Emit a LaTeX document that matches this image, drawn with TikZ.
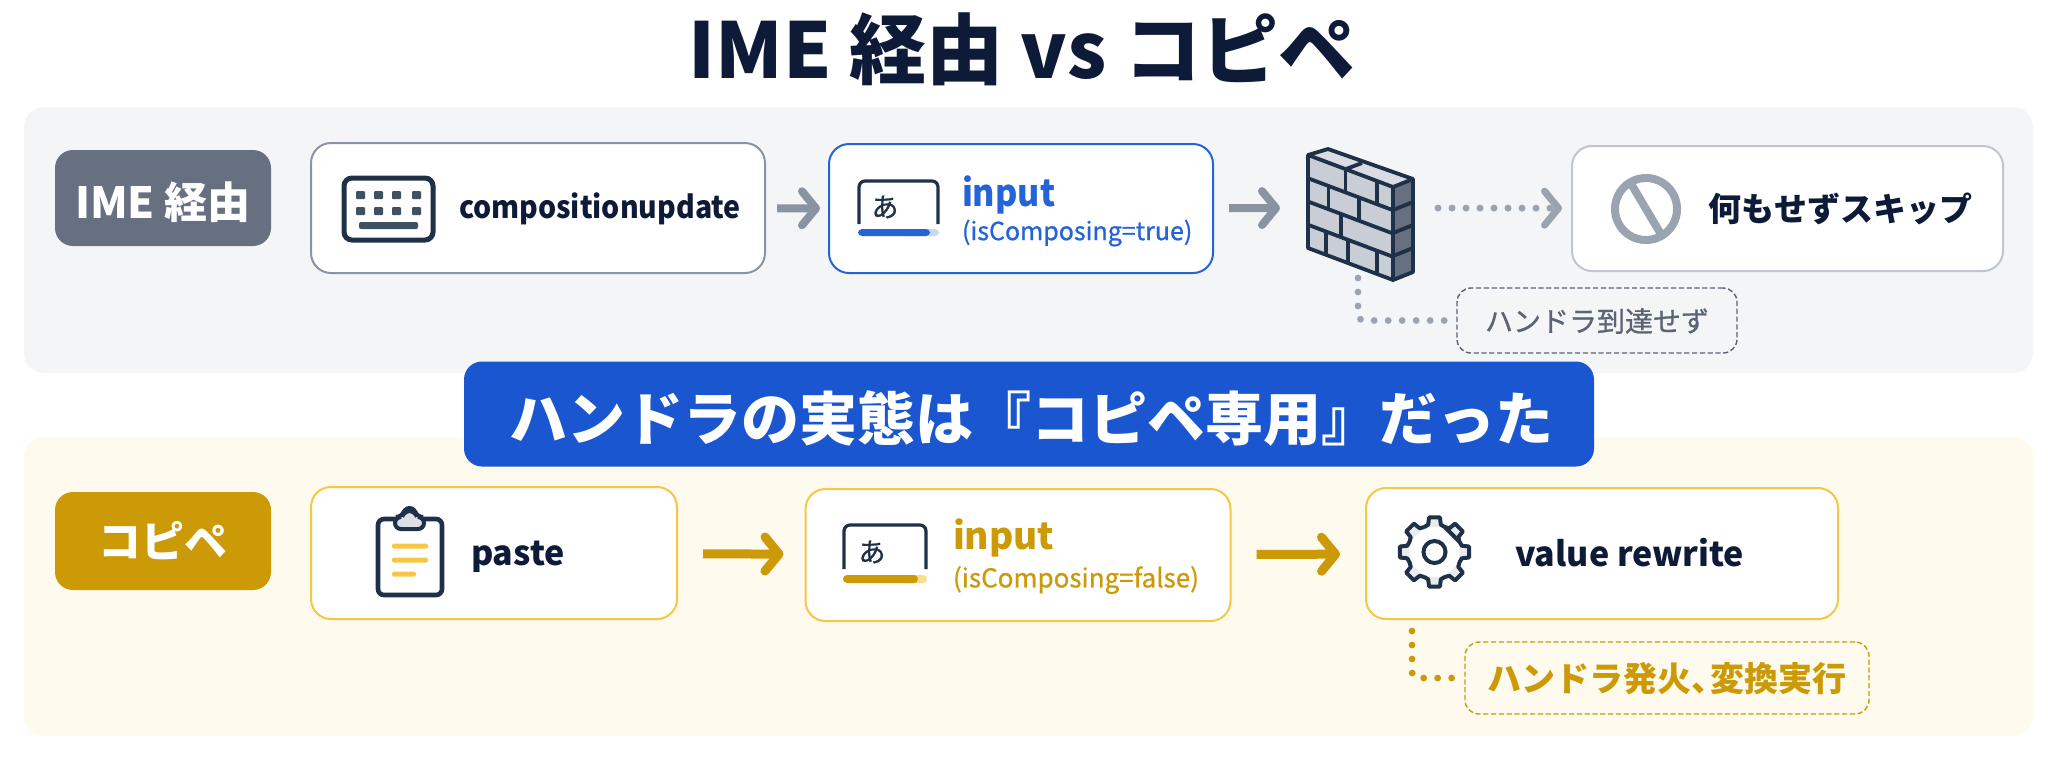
\documentclass[tikz,border=0pt]{standalone}
\usepackage{fontspec}
\setmainfont{Noto Sans CJK JP}
\newfontfamily\narrowfont[FakeStretch=0.92]{Noto Sans CJK JP}
\newfontfamily\medfont[FakeBold=0.8]{Noto Sans CJK JP}
\usetikzlibrary{arrows.meta}

\definecolor{inkdark}{HTML}{0E1B38}
\definecolor{icondark}{HTML}{1E3148}
\definecolor{panelgray}{HTML}{F4F5F7}
\definecolor{panelcream}{HTML}{FEFAEE}
\definecolor{taggray}{HTML}{667080}
\definecolor{taggold}{HTML}{CC9A06}
\definecolor{linegray}{HTML}{8A93A2}
\definecolor{dotgray}{HTML}{9AA3B0}
\definecolor{softgray}{HTML}{C0C5CF}
\definecolor{notegray}{HTML}{5A6473}
\definecolor{inputblue}{HTML}{2563D8}
\definecolor{bannerblue}{HTML}{1A56CF}
\definecolor{softyellow}{HTML}{F6C744}

\begin{document}
\begin{tikzpicture}[
  x=0.5pt, y=-0.5pt,
  every node/.style={inner sep=0pt, outer sep=0pt},
  panelbox/.style={rounded corners=10pt},
  tagbox/.style={rounded corners=9pt},
  tagtext/.style={text=white, font=\fontsize{21.5}{26}\selectfont\bfseries},
  flowbox/.style={draw, fill=white, rounded corners=10pt, line width=1pt},
  notebox/.style={draw, dash pattern=on 2.6pt off 1.3pt, rounded corners=7pt, line width=0.7pt},
  flowarrow/.style={-{Straight Barb[length=7pt,width=17pt,round]}, line width=4pt, shorten <=6pt, shorten >=4.5pt},
  dotline/.style={line width=3.4pt, line cap=round, dash pattern=on 0pt off 7pt, rounded corners=3pt},
  flowtext/.style={anchor=west, text=inkdark, font=\fontsize{17}{20}\selectfont\bfseries},
  subtext/.style={anchor=west, font=\medfont\fontsize{12.5}{15}\selectfont},
  kanaicon/.style={text=icondark, font=\medfont\fontsize{13.5}{15}\selectfont}
]
\useasboundingbox (0,0) rectangle (2048,768);
\fill[white] (0,0) rectangle (2048,768);

% Title
\node[text=inkdark, font=\fontsize{38.5}{44}\selectfont\bfseries] (title) at (1022,49) {IME 経由 vs コピペ};

% Panels
\node[panelbox, fill=panelgray, minimum width=1004.5pt, minimum height=133pt] (panelime) at (1028.5,240) {};
\node[panelbox, fill=panelcream, minimum width=1004.5pt, minimum height=149.5pt] (panelcopy) at (1028.5,586.5) {};

% Upper flow
\node[tagbox, fill=taggray, minimum width=108pt, minimum height=48pt] (tagime) at (163,198) {};
\node[tagtext] (tagimetext) at (163,202) {IME 経由};
\node[flowbox, draw=linegray, minimum width=227pt, minimum height=65pt] (compose) at (538,208) {};
\node[flowtext, font=\narrowfont\fontsize{15.5}{18}\selectfont\bfseries] (composetext) at (459,209) {compositionupdate};
\node[flowbox, draw=inputblue, minimum width=192pt, minimum height=64.5pt] (inputime) at (1021,208.5) {};
\node[anchor=west, text=inputblue, font=\narrowfont\fontsize{18.5}{22}\selectfont\bfseries] (inputimetext) at (962,195) {input};
\node[subtext, text=inputblue] (inputimesub) at (962,233) {(isComposing=true)};
\node[flowbox, draw=softgray, minimum width=215.5pt, minimum height=62.5pt] (skip) at (1787.5,208.5) {};
\node[anchor=west, text=inkdark, font=\fontsize{16.5}{20}\selectfont\bfseries] (skiptext) at (1708,209) {何もせずスキップ};
\node[notebox, draw=notegray, minimum width=140pt, minimum height=32.5pt] (noteime) at (1597,320.5) {};
\node[text=notegray, font=\medfont\fontsize{14}{17}\selectfont] (noteimetext) at (1597,321) {ハンドラ到達せず};
\coordinate (wallin) at (1290,208);
\coordinate (wallout) at (1424,208);
\coordinate (wallfoot) at (1358,278);

% Lower flow
\node[tagbox, fill=taggold, minimum width=108pt, minimum height=49pt] (tagcopy) at (163,541) {};
\node[tagtext] (tagcopytext) at (163,541) {コピペ};
\node[flowbox, draw=softyellow, minimum width=183pt, minimum height=66pt] (paste) at (494,553) {};
\node[flowtext] (pastetext) at (471,557) {paste};
\node[flowbox, draw=softyellow, minimum width=212.5pt, minimum height=66pt] (inputcopy) at (1018,555) {};
\node[anchor=west, text=taggold, font=\fontsize{18.5}{22}\selectfont\bfseries] (inputcopytext) at (953,538) {input};
\node[subtext, text=taggold, font=\medfont\fontsize{13}{15}\selectfont] (inputcopysub) at (953,580) {(isComposing=false)};
\node[flowbox, draw=softyellow, minimum width=236pt, minimum height=65.5pt] (rewrite) at (1602,553.5) {};
\node[flowtext] (rewritetext) at (1515,553) {value rewrite};
\node[notebox, draw=taggold, minimum width=202pt, minimum height=36pt] (notecopy) at (1667,678) {};
\node[text=taggold, font=\fontsize{17}{20}\selectfont\bfseries] (notecopytext) at (1667,679) {ハンドラ発火、\hspace{-0.45em}変換実行};
\coordinate (rewritefoot) at (1412,631);

% Banner
\node[rounded corners=9pt, fill=bannerblue, minimum width=565pt, minimum height=52.5pt] (banner) at (1029,414) {};
\node[text=white, font=\fontsize{29}{34}\selectfont\bfseries] (bannertext) at (1031,418) {ハンドラの実態は『コピペ専用』だった};

% Keyboard icon
\draw[icondark, line width=2.5pt, rounded corners=4pt] (344,178) rectangle (433,240);
\foreach \kx in {356,374,392,412} \foreach \ky in {191,207} {
  \fill[icondark!85, rounded corners=0.5pt] (\kx,\ky) rectangle ++(9,8);
}
\fill[icondark!85, rounded corners=1pt] (359,222) rectangle (418,229);

% Kana input icons
\draw[icondark, line width=1.6pt, rounded corners=3pt] (859,224) -- (859,181) -- (938,181) -- (938,224);
\node[kanaicon] (kanaime) at (885,207) {あ};
\fill[inputblue!25, rounded corners=2pt] (900,229) rectangle (939,236);
\fill[inputblue, rounded corners=2pt] (858,229) rectangle (930,236);
\draw[icondark, line width=1.6pt, rounded corners=3pt] (844,569) -- (844,525) -- (926,525) -- (926,569);
\node[kanaicon] (kanacopy) at (872,552) {あ};
\fill[softyellow!60, rounded corners=2pt] (900,575) rectangle (927,583);
\fill[taggold, rounded corners=2pt] (843,575) rectangle (918,583);

% Firewall
\fill[softgray!85] (1308,155) -- (1393,187) -- (1393,280) -- (1308,248) -- cycle;
\fill[softgray!60] (1308,155) -- (1328,149) -- (1413,179) -- (1393,187) -- cycle;
\fill[taggray] (1393,187) -- (1413,179) -- (1413,272) -- (1393,280) -- cycle;
\begin{scope}[shift={(1308,155)}, x={(42.5pt,-16pt)}, y={(0pt,-46.5pt)}, icondark, line width=1.9pt, line join=round]
  \foreach \mv in {0.25,0.5,0.75} {\draw (0,\mv) -- (1,\mv);}
  \foreach \mu/\vtop in {0.44/0,0.81/0,0.24/0.25,0.60/0.25,0.39/0.5,0.21/0.75,0.47/0.75,0.81/0.75} {
    \draw (\mu,\vtop) -- (\mu,\vtop+0.25);
  }
\end{scope}
\foreach \moff in {23,46,69} {
  \draw[icondark, line width=1.9pt] (1393,187+\moff) -- (1413,179+\moff);
}
\draw[icondark, line width=1.9pt, line join=round] (1308,155) -- (1328,149) -- (1413,179) -- (1413,272) -- (1393,280) -- (1308,248) -- cycle;
\draw[icondark, line width=1.9pt, line join=round] (1308,155) -- (1393,187) -- (1413,179) (1393,187) -- (1393,280) (1346,169) -- (1362,163);

% Prohibit icon
\draw[dotgray, line width=4pt] (1646,209) circle (31);
\draw[dotgray, line width=4pt] (1630,182) -- (1662,236);

% Clipboard icon
\draw[icondark, line width=2.3pt, rounded corners=3pt] (378,519) rectangle (442,595);
\draw[icondark, fill=softgray!55, line width=2pt] (409.5,514) circle (6);
\draw[icondark, fill=softgray!55, line width=2pt, rounded corners=3pt] (395,529) -- (395,517) -- (402,517) -- (404,511) -- (415,511) -- (417,517) -- (424,517) -- (424,529) -- cycle;
\foreach \ly/\lx in {546/428,560/428,574/416} {
  \fill[softyellow, rounded corners=1pt] (392,\ly-2.5) rectangle (\lx,\ly+2.5);
}

% Gear icon
\begin{scope}[shift={(1434.5,552)}]
  \draw[icondark, fill=panelgray!80!softgray, line width=2pt, line join=round]
    \foreach \ga in {0,45,...,315} {
      (\ga-22.5:27) -- (\ga-13:28) -- (\ga-9:35) -- (\ga+9:35) -- (\ga+13:28) -- (\ga+22.5:27)
    } -- cycle;
  \draw[icondark, fill=white, line width=2pt] (0,0) circle (11);
\end{scope}

% Arrows
\draw[flowarrow, linegray] (compose) -- (inputime);
\draw[flowarrow, linegray, shorten <=8pt, shorten >=5pt] (inputime) -- (wallin);
\draw[flowarrow, dotgray, line width=3.5pt, dash pattern=on 0pt off 7pt, line cap=round, shorten <=7pt, shorten >=5pt] (wallout) -- (skip);
\draw[flowarrow, taggold, line width=4.5pt, shorten <=13pt, shorten >=11pt] (paste) -- (inputcopy);
\draw[flowarrow, taggold, line width=4.5pt, shorten <=13pt, shorten >=13pt] (inputcopy) -- (rewrite);

% Note connectors
\draw[dotline, dotgray] (wallfoot) |- (noteime);
\draw[dotline, taggold] (rewritefoot) |- (notecopy);
\end{tikzpicture}
\end{document}
